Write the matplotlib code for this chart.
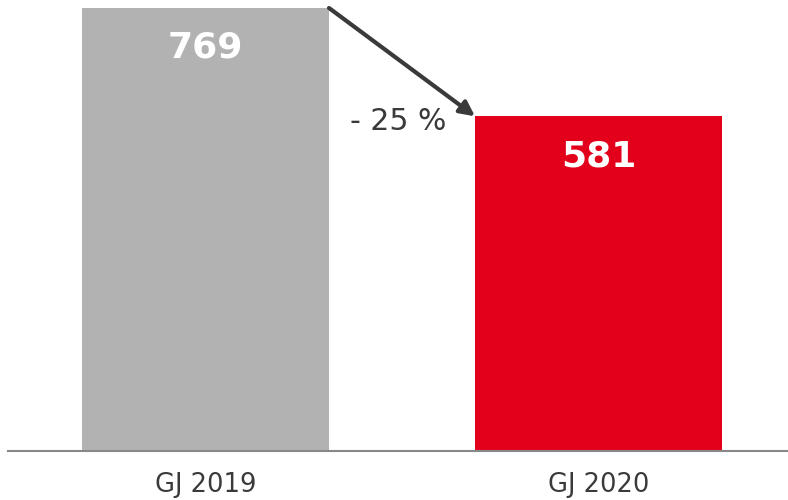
import matplotlib
matplotlib.use("Agg")
import matplotlib.pyplot as plt

categories = ["GJ 2019", "GJ 2020"]
values = [769, 581]
colors = ["#b2b2b2", "#e2001a"]
change_label = "- 25 %"

plt.rcParams['font.family'] = ['DejaVu Sans']

fig = plt.figure(figsize=(7.88, 5.0), dpi=100)
ax = fig.add_axes([8/788, 1 - 451/500, 780/788, 451/500])
x = list(range(len(categories)))
bw = 247/393
ax.bar(x, values, width=bw, color=colors, zorder=2)
ax.set_xlim((8 - 205.5)/393, (788 - 205.5)/393)
ax.set_ylim(0, 769 * 451/443)

for xi, v in zip(x, values):
    ax.text(xi, v - 86.5, str(v), ha='center', va='baseline', color='white',
            fontsize=26, fontweight='bold')

# arrow from top-right corner of first bar to top-left of second
ax.annotate("", xy=(x[1] - bw/2, values[1]), xytext=(x[0] + bw/2, values[0]),
            arrowprops=dict(arrowstyle='-|>', color='#3a3a3a', lw=3,
                            mutation_scale=22, shrinkA=0, shrinkB=0))
ax.text(0.49, values[1] - 24, change_label, ha='center', va='baseline',
        color='#3a3a3a', fontsize=21.5)

for s in ['top', 'right', 'left']:
    ax.spines[s].set_visible(False)
ax.spines['bottom'].set_color('#888888')
ax.spines['bottom'].set_linewidth(1.5)
ax.set_yticks([])
ax.set_xticks(x)
ax.set_xticklabels(categories, fontsize=18.5, color='#3a3a3a')
ax.tick_params(axis='x', length=0, pad=15)

fig.savefig("out.png", dpi=100)
